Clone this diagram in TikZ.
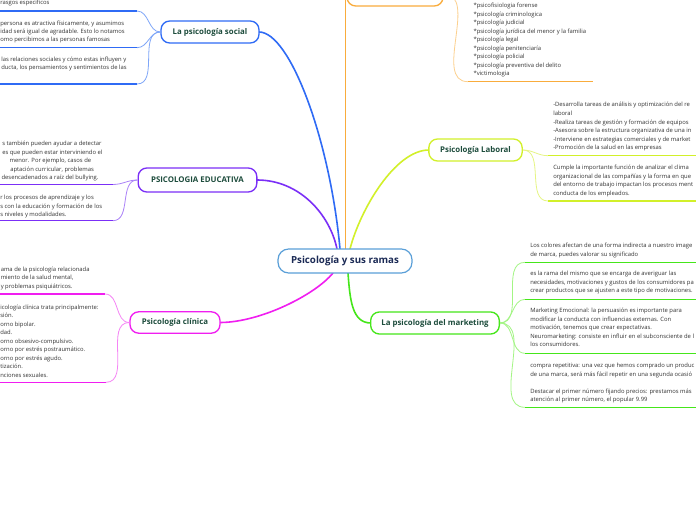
\documentclass[tikz,border=0pt]{standalone}
\usepackage{fontspec}
\setmainfont{Open Sans}
\definecolor{ttl}{HTML}{1D4C3C}
\definecolor{ctrt}{HTML}{1B2A55}
\definecolor{bodyc}{HTML}{333333}
\definecolor{ctrb}{HTML}{5A9FD8}
\definecolor{blM}{HTML}{2F6BF5}\definecolor{blS}{HTML}{7FA6F8}
\definecolor{puM}{HTML}{7B2FF7}\definecolor{puS}{HTML}{AB82F8}
\definecolor{mgM}{HTML}{F01EF0}\definecolor{mgS}{HTML}{F584F5}
\definecolor{liM}{HTML}{D2F02A}\definecolor{liS}{HTML}{E6F584}
\definecolor{orM}{HTML}{F9AC3C}\definecolor{orS}{HTML}{FCD08E}
\definecolor{grM}{HTML}{45E61A}\definecolor{grS}{HTML}{A3F584}
\newcommand\tbs{\rule{0pt}{4.4pt}}
\begin{document}
\begin{tikzpicture}[x=0.75pt,y=-0.75pt,
  topic/.style={draw=#1, line width=1pt, rounded corners=6.5pt, fill=white, text=ttl,
    font=\fontsize{5.9}{7}\selectfont\bfseries, inner sep=0pt},
  tb/.style={anchor=north west, inner sep=0pt, align=left, text=bodyc,
    font=\fontsize{4.4}{6.4}\selectfont},
  sconn/.style={line width=0.6pt, draw=#1},
  uline/.style={line width=1.1pt, draw=#1},
  mconn/.style={line width=1.2pt, draw=#1}]
\useasboundingbox (0,0) rectangle (696,520);
\clip (0,0) rectangle (696,520);
\fill[white] (0,0) rectangle (696,520);

% ---------- coordinates on the central node ----------
\coordinate (cS) at (340,249);
\coordinate (cE) at (337,249);
\coordinate (cO) at (345.5,249);
\coordinate (cL) at (350,249);
\coordinate (cC) at (333,273);
\coordinate (cM) at (348,273);
\coordinate (oTop) at (345.5,-12);

% ---------- main connectors ----------
\draw[mconn=blM] (cS) .. controls (330,140) and (290,32) .. (259,32);
\draw[mconn=puM] (cE) .. controls (330,215) and (300,180) .. (257,180);
\draw[mconn=orM] (cO) -- (oTop);
\draw[mconn=liM] (cL) .. controls (360,210) and (395,150) .. (429,150);
\draw[mconn=mgM] (cC) .. controls (315,295) and (260,322.5) .. (220,322.5);
\draw[mconn=grM] (cM) .. controls (350,300) and (352,323) .. (371,323);

% ---------- topic nodes ----------
\node[draw=ctrb, line width=0.9pt, rounded corners=8pt, fill=white, text=ctrt,
  font=\fontsize{7.3}{8.5}\selectfont\bfseries, minimum width=100.5pt, minimum height=18pt, inner sep=0pt]
  (ctr) at (345,261) {Psicología y sus ramas};
\node[topic=blM, minimum width=73.5pt, minimum height=16.5pt] (S) at (210,32) {La psicología social};
\node[topic=puM, minimum width=89pt, minimum height=18pt] (E) at (197.5,180) {PSICOLOGIA EDUCATIVA};
\node[topic=mgM, minimum width=67.5pt, minimum height=16pt] (C) at (175,322.5) {Psicología clínica};
\node[topic=liM, minimum width=70pt, minimum height=16.5pt] (L) at (475.5,150) {Psicología Laboral};
\node[topic=orM, minimum width=72pt, minimum height=18pt] (O) at (395,-6) {};
\node[topic=grM, minimum width=96.5pt, minimum height=16.5pt] (M) at (435,323) {La psicología del marketing};

% ---------- underline coordinates ----------
\coordinate (s0u) at (137,11);    \coordinate (s0e) at (-5,11);
\coordinate (s1u) at (137,47.7);  \coordinate (s1e) at (-5,47.7);
\coordinate (s2u) at (137,84);    \coordinate (s2e) at (-5,84);
\coordinate (e1u) at (113,184.5); \coordinate (e1e) at (-5,184.5);
\coordinate (e2u) at (113,220.7); \coordinate (e2e) at (-5,220.7);
\coordinate (c1u) at (105,294);   \coordinate (c1e) at (-5,294);
\coordinate (c2u) at (106,382.3); \coordinate (c2e) at (-5,382.3);
\coordinate (l1u) at (548,155.7); \coordinate (l1e) at (700,155.7);
\coordinate (l2u) at (548,201);   \coordinate (l2e) at (700,201);
\coordinate (o1u) at (468,81.7);  \coordinate (o1e) at (593,81.7);
\coordinate (m1u) at (525,262.3); \coordinate (m1e) at (700,262.3);
\coordinate (m2u) at (525,299.3); \coordinate (m2e) at (700,299.3);
\coordinate (m3u) at (525,353.3); \coordinate (m3e) at (700,353.3);
\coordinate (m4u) at (525,407.3); \coordinate (m4e) at (700,407.3);

% ---------- sub connectors ----------
\foreach \u in {s0u,s1u,s2u} \draw[sconn=blS] (S.west) to[out=180,in=0] (\u);
\foreach \u in {e1u,e2u} \draw[sconn=puS] (E.west) to[out=180,in=0] (\u);
\foreach \u in {c1u,c2u} \draw[sconn=mgS] (C.west) to[out=180,in=0] (\u);
\foreach \u in {l1u,l2u} \draw[sconn=liS] (L.east) to[out=0,in=180] (\u);
\draw[sconn=orS] (O.east) to[out=0,in=180] (o1u);
\foreach \u in {m1u,m2u,m3u,m4u} \draw[sconn=grS] (M.east) to[out=0,in=180] (\u);

% ---------- underlines ----------
\foreach \a/\b in {s0u/s0e,s1u/s1e,s2u/s2e} \draw[uline=blM] (\a) -- (\b);
\foreach \a/\b in {e1u/e1e,e2u/e2e} \draw[uline=puM] (\a) -- (\b);
\foreach \a/\b in {c1u/c1e,c2u/c2e} \draw[uline=mgM] (\a) -- (\b);
\foreach \a/\b in {l1u/l1e,l2u/l2e} \draw[uline=liM] (\a) -- (\b);
\draw[uline=orM] (o1u) -- (o1e);
\foreach \a/\b in {m1u/m1e,m2u/m2e,m3u/m3e,m4u/m4e} \draw[uline=grM] (\a) -- (\b);

% ---------- texts: social ----------
\node[tb] (s0t) at (0,-1.3) {\tbs rasgos especificos};
\node[tb, font=\fontsize{4.4}{5.85}\selectfont] (s1t) at (0,19.4) {\tbs persona es atractiva físicamente, y asumimos\\idad será igual de agradable. Esto lo notamos\\omo percibimos a las personas famosas};
\node[tb, font=\fontsize{4.4}{5.85}\selectfont] (s2t) at (1,55.7) {\tbs las relaciones sociales y cómo estas influyen y\\ducta, los pensamientos y sentimientos de las};

% ---------- texts: educativa ----------
\node[tb, font=\fontsize{4.4}{6.3}\selectfont] (e1t) at (0,139.7) {\tbs\hspace*{1.5pt}s también pueden ayudar a detectar\\\hspace*{1.5pt}es que pueden estar interviniendo el\\\hspace*{7pt}menor. Por ejemplo, casos de\\\hspace*{7.5pt}aptación curricular, problemas\\\hspace*{1pt}desencadenados a raíz del bullying.};
\node[tb] (e2t) at (0,193.4) {\tbs r los procesos de aprendizaje y los\\s con la educación y formación de los\\s niveles y modalidades.};

% ---------- texts: clinica ----------
\node[tb] (c1t) at (0.5,265) {\tbs ama de la psicología relacionada\\miento de la salud mental,\\y problemas psiquiátricos.};
\node[tb] (c2t) at (0,303) {\tbs icología clínica trata principalmente:\\sión.\\orno bipolar.\\dad.\\orno obsesivo-compulsivo.\\orno por estrés postraumático.\\orno por estrés agudo.\\tización.\\nciones sexuales.};

% ---------- texts: laboral ----------
\node[tb, font=\fontsize{4.4}{6.45}\selectfont] (l1t) at (553,100.7) {\tbs -Desarrolla tareas de análisis y optimización del re\\laboral\\-Realiza tareas de gestión y formación de equipos\\-Asesora sobre la estructura organizativa de una in\\-Interviene en estrategias comerciales y de market\\-Promoción de la salud en las empresas};
\node[tb, font=\fontsize{4.4}{6.5}\selectfont] (l2t) at (553,163.4) {\tbs Cumple la importante función de analizar el clima\\organizacional de las compañías y la forma en que\\del entorno de trabajo impactan los procesos ment\\conducta de los empleados.};

% ---------- texts: orange ----------
\node[tb] (o1t) at (473.3,1.4) {\tbs *psicofisiologia forense\\*psicología criminologica\\*psicología judicial\\*psicología jurídica del menor y la familia\\*psicología legal\\*psicología penitenciaría\\*psicología policial\\*psicología preventiva del delito\\*victimologia};

% ---------- texts: marketing ----------
\node[tb] (m1t) at (530,241.4) {\tbs Los colores afectan de una forma indirecta a nuestro image\\de marca, puedes valorar su significado};
\node[tb] (m2t) at (530,269.7) {\tbs es la rama del mismo que se encarga de averiguar las\\necesidades, motivaciones y gustos de los consumidores pa\\crear productos que se ajusten a este tipo de motivaciones.};
\node[tb] (m3t) at (530,306.7) {\tbs Marketing Emocional: la persuasión es importante para\\modificar la conducta con influencias externas. Con\\motivación, tenemos que crear expectativas.\\Neuromarketing: consiste en influir en el subconsciente de l\\los consumidores.};
\node[tb] (m4t) at (530,361.7) {\tbs compra repetitiva: una vez que hemos comprado un produc\\de una marca, será más fácil repetir en una segunda ocasió\\[6.4pt]Destacar el primer número fijando precios: prestamos más\\atención al primer número, el popular 9.99};
\end{tikzpicture}
\end{document}
